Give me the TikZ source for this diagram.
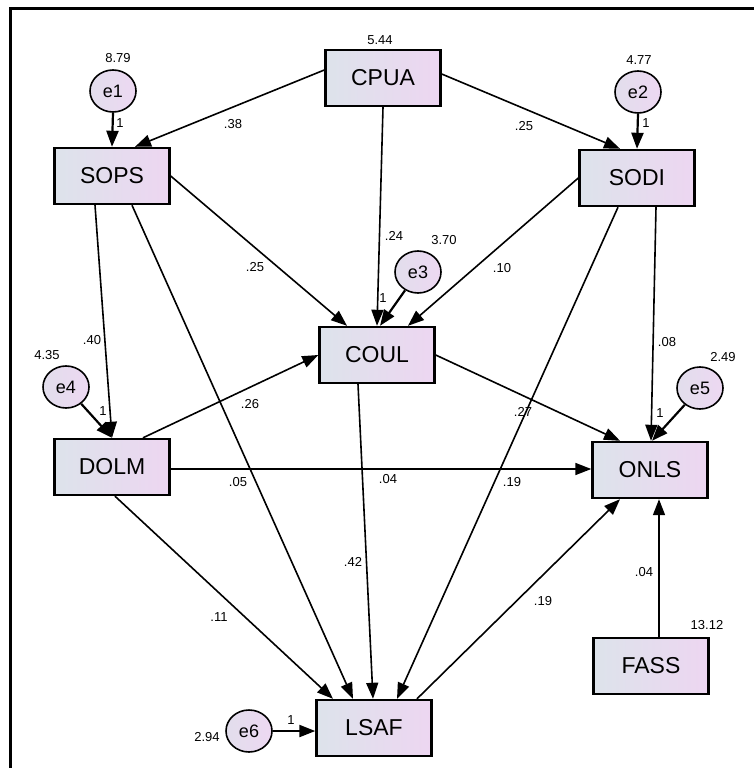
\documentclass[tikz,border=0pt]{standalone}
\usepackage{fontspec}
\setmainfont{Liberation Sans}
\usetikzlibrary{arrows.meta,shapes.geometric}
\definecolor{boxL}{HTML}{DDE3EB}
\definecolor{boxR}{HTML}{EDD6F1}
\definecolor{ellL}{HTML}{E2DEEC}
\definecolor{ellR}{HTML}{EDD8F2}
\tikzset{
  var/.style={draw=black, line width=2.4pt, left color=boxL, right color=boxR,
    minimum width=115pt, minimum height=56pt, inner sep=0pt,
    font=\fontsize{23}{25}\selectfont},
  err/.style={ellipse, draw=black, line width=1.6pt, left color=ellL, right color=ellR,
    minimum width=46pt, minimum height=42pt, inner sep=0pt,
    font=\fontsize{18}{20}\selectfont},
  num/.style={inner sep=0pt, font=\fontsize{13}{14}\selectfont},
  path/.style={line width=1.6pt, -{Triangle[length=16pt,width=12pt]}},
  epath/.style={line width=2.2pt, -{Triangle[length=16pt,width=12pt]}}
}
\begin{document}
\begin{tikzpicture}[x=1pt,y=-1pt]
\useasboundingbox (0,0) rectangle (754,768);
\draw[line width=3pt] (10,768) -- (10,9) -- (754,9);

% variables
\node[var] (cpua) at (383,78) {CPUA};
\node[var] (sops) at (112,176) {SOPS};
\node[var] (sodi) at (637,178) {SODI};
\node[var] (coul) at (377,355) {COUL};
\node[var] (dolm) at (112,467) {DOLM};
\node[var] (onls) at (650,470) {ONLS};
\node[var] (fass) at (651,666) {FASS};
\node[var] (lsaf) at (374,728) {LSAF};

% errors
\node[err] (e1) at (113,91) {e1};
\node[err] (e2) at (638,92) {e2};
\node[err] (e3) at (418,272) {e3};
\node[err] (e4) at (66,387) {e4};
\node[err] (e5) at (700,388) {e5};
\node[err] (e6) at (249,731) {e6};

% structural paths
\draw[path] ([yshift=8pt]cpua.west) -- ([xshift=23pt]sops.north);
\draw[path] ([yshift=4pt]cpua.east) -- ([xshift=-17pt]sodi.north);
\draw[path] (cpua.south) -- (coul.north);
\draw[path] (sops.east) -- ([xshift=-30pt]coul.north);
\draw[path] ([xshift=-17pt]sops.south) -- (dolm.north);
\draw[path] ([xshift=20pt]sops.south) -- ([xshift=-21pt]lsaf.north);
\draw[path] (sodi.west) -- ([xshift=31pt]coul.north);
\draw[path] ([xshift=-19pt]sodi.south) -- ([xshift=23pt]lsaf.north);
\draw[path] ([xshift=19pt]sodi.south) -- ([xshift=1pt]onls.north);
\draw[path] ([xshift=31pt]dolm.north) -- (coul.west);
\draw[path] ([yshift=-2pt]dolm.east) -- ([yshift=1pt]onls.west);
\draw[path] ([xshift=3pt]dolm.south) -- ([xshift=-41pt]lsaf.north);
\draw[path] (coul.east) -- ([xshift=-30pt]onls.north);
\draw[path] ([xshift=-19pt]coul.south) -- ([xshift=-1pt]lsaf.north);
\draw[path] ([xshift=43pt]lsaf.north) -- ([xshift=-30pt]onls.south);
\draw[path] ([xshift=8pt]fass.north) -- ([xshift=9pt]onls.south);

% error paths
\draw[epath] (e1.south) -- (sops.north);
\draw[epath] (e2.south) -- (sodi.north);
\draw[epath] (e3) -- ([xshift=3pt]coul.north);
\draw[epath] (e4) -- (dolm.north);
\draw[epath] (e5) -- ([xshift=2pt]onls.north);
\draw[epath] (e6.east) -- (e6.east -| lsaf.west);

% variances
\node[num] (v544) at (380,40) {5.44};
\node[num] (v879) at (118,58) {8.79};
\node[num] (v477) at (639,60) {4.77};
\node[num] (v370) at (444,240) {3.70};
\node[num] (v435) at (47,355) {4.35};
\node[num] (v249) at (723,357) {2.49};
\node[num] (v1312) at (707,625) {13.12};
\node[num] (v294) at (207,737) {2.94};

% weights
\node[num] (w1) at (233,124) {.38};
\node[num] (w2) at (524,126) {.25};
\node[num] (w3) at (394,236) {.24};
\node[num] (w4) at (255,267) {.25};
\node[num] (w5) at (502,268) {.10};
\node[num] (w6) at (92,340) {.40};
\node[num] (w7) at (667,342) {.08};
\node[num] (w8) at (250,404) {.26};
\node[num] (w9) at (523,412) {.27};
\node[num] (w10) at (238,482) {.05};
\node[num] (w11) at (388,479) {.04};
\node[num] (w12) at (512,482) {.19};
\node[num] (w13) at (353,562) {.42};
\node[num] (w14) at (644,572) {.04};
\node[num] (w15) at (219,617) {.11};
\node[num] (w16) at (543,601) {.19};

% unit loadings
\node[num] (u1) at (120,123) {1};
\node[num] (u2) at (646,123) {1};
\node[num] (u3) at (383,298) {1};
\node[num] (u4) at (103,411) {1};
\node[num] (u5) at (660,413) {1};
\node[num] (u6) at (291,720) {1};
\end{tikzpicture}
\end{document}
